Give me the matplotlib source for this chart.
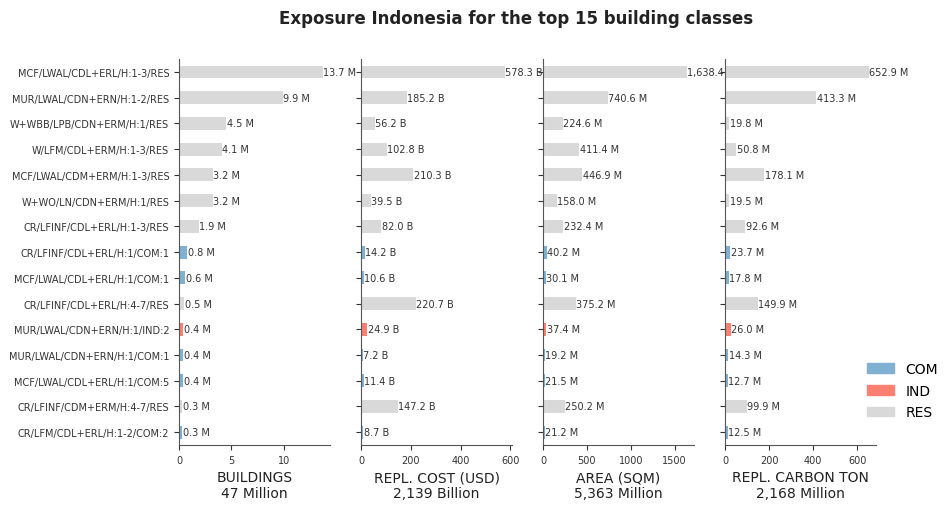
import matplotlib
matplotlib.use("Agg")
from matplotlib import pyplot as plt
from matplotlib.patches import Patch

classes = [
    "MCF/LWAL/CDL+ERL/H:1-3/RES",
    "MUR/LWAL/CDN+ERN/H:1-2/RES",
    "W+WBB/LPB/CDN+ERM/H:1/RES",
    "W/LFM/CDL+ERM/H:1-3/RES",
    "MCF/LWAL/CDM+ERM/H:1-3/RES",
    "W+WO/LN/CDN+ERM/H:1/RES",
    "CR/LFINF/CDL+ERL/H:1-3/RES",
    "CR/LFINF/CDL+ERL/H:1/COM:1",
    "MCF/LWAL/CDL+ERL/H:1/COM:1",
    "CR/LFINF/CDL+ERL/H:4-7/RES",
    "MUR/LWAL/CDN+ERN/H:1/IND:2",
    "MUR/LWAL/CDN+ERN/H:1/COM:1",
    "MCF/LWAL/CDL+ERL/H:1/COM:5",
    "CR/LFINF/CDM+ERM/H:4-7/RES",
    "CR/LFM/CDL+ERL/H:1-2/COM:2",
]
occupancy = ["RES", "RES", "RES", "RES", "RES", "RES", "RES", "COM", "COM",
             "RES", "IND", "COM", "COM", "RES", "COM"]

buildings = [13.7, 9.9, 4.5, 4.1, 3.2, 3.2, 1.9, 0.8, 0.6, 0.5, 0.4, 0.4, 0.4, 0.3, 0.3]
repl_cost = [578.3, 185.2, 56.2, 102.8, 210.3, 39.5, 82.0, 14.2, 10.6, 220.7, 24.9, 7.2, 11.4, 147.2, 8.7]
area = [1638.4, 740.6, 224.6, 411.4, 446.9, 158.0, 232.4, 40.2, 30.1, 375.2, 37.4, 19.2, 21.5, 250.2, 21.2]
carbon = [652.9, 413.3, 19.8, 50.8, 178.1, 19.5, 92.6, 23.7, 17.8, 149.9, 26.0, 14.3, 12.7, 99.9, 12.5]

panels = [
    (buildings, "M", "BUILDINGS\n47 Million"),
    (repl_cost, "B", "REPL. COST (USD)\n2,139 Billion"),
    (area, "M", "AREA (SQM)\n5,363 Million"),
    (carbon, "M", "REPL. CARBON TON\n2,168 Million"),
]

colors = {"COM": "#80b1d3", "IND": "#fb8072", "RES": "#d9d9d9"}
text_col = "#333333"

fig = plt.figure(figsize=(9.53, 5.1), dpi=100)
fig.suptitle("Exposure Indonesia for the top 15 building classes",
             fontsize=12, fontweight="bold", x=0.5415, y=0.98, color="#222222")

n = len(classes)
ypos = list(range(n - 1, -1, -1))
bar_colors = [colors[o] for o in occupancy]

lefts = [0.1878, 0.3788, 0.5698, 0.7608]
for i, (values, unit, xlabel) in enumerate(panels):
    ax = fig.add_axes([lefts[i], 0.1255, 0.1585, 0.7565])
    bars = ax.barh(ypos, values, height=0.5, color=bar_colors)
    ax.bar_label(bars, labels=[f"{v:,.1f} {unit}" for v in values],
                 padding=0.3, fontsize=7, color=text_col, clip_on=False)
    ax.set_ylim(-0.5, n - 0.5)
    ax.set_yticks(ypos)
    if i == 0:
        ax.set_yticklabels(classes, fontsize=7, color=text_col)
    else:
        ax.set_yticklabels([])
    ax.tick_params(axis="x", labelsize=7, colors=text_col)
    ax.tick_params(axis="y", colors=text_col)
    ax.set_xlabel(xlabel, fontsize=10, color="#222222")
    for side in ["top", "right"]:
        ax.spines[side].set_visible(False)
    for side in ["left", "bottom"]:
        ax.spines[side].set_color("#555555")

handles = [Patch(color=colors[k], label=k) for k in ["COM", "IND", "RES"]]
fig.legend(handles=handles, loc="lower left", bbox_to_anchor=(0.9035, 0.165),
           borderaxespad=0, frameon=False, fontsize=10, labelspacing=0.55)

fig.savefig("out.png", dpi=100)
